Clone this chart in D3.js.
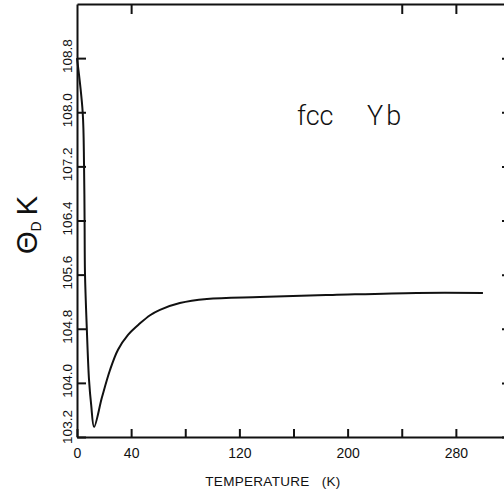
<!DOCTYPE html>
<html>
<head>
<meta charset="utf-8">
<script src="https://cdn.jsdelivr.net/npm/d3@7"></script>
<style>
    body { margin: 0; background: #fff; }
    svg { display: block; }
    text { font-family: "Liberation Sans", Arial, sans-serif; fill: #111; }
    .domain, .tick line { stroke: #111; stroke-width: 2; }
</style>
</head>
<body>
<div id="chart"></div>
<script>
// values: temperature (K) and Debye temperature (K)
var temperature = [0, 4.2, 5.2, 5.6, 5.9, 7.2, 8.9, 10.5, 12.6, 18.5, 24.4, 30.3, 37.7, 46.6, 54, 61.3, 76, 96, 135, 189, 251, 300];
var thetaD = [108.8, 108.0, 107.22, 106.41, 105.62, 104.83, 104.04, 103.67, 103.35, 103.79, 104.19, 104.49, 104.71, 104.88, 105.00, 105.08, 105.18, 105.24, 105.27, 105.30, 105.33, 105.33];

var xTicks = [0, 40, 80, 120, 160, 200, 240, 280, 320];
var xLabels = [0, 40, 120, 200, 280];
var xTopTicks = [40, 240, 280];
var yTicks = [103.2, 104.0, 104.8, 105.6, 106.4, 107.2, 108.0, 108.8];

var width = 504, height = 491;

var svg = d3.select("#chart")
    .append("svg")
    .attr("width", width)
    .attr("height", height);

var x = d3.scaleLinear().domain([0, 320]).range([77, 510]);
var y = d3.scaleLinear().domain([103.2, 109.6]).range([437, 4]);

// bottom axis, ticks pointing inward
var bottom = svg.append("g")
    .attr("transform", "translate(0," + y(103.2) + ")")
    .call(d3.axisBottom(x)
        .tickValues(xTicks)
        .tickSizeInner(-8)
        .tickSizeOuter(0)
        .tickPadding(11)
        .tickFormat(function (d) { return xLabels.indexOf(d) >= 0 ? d : ""; }));
bottom.selectAll("text")
    .style("font-size", "14px")
    .attr("fill", "#111");

// top axis
svg.append("g")
    .attr("transform", "translate(0," + y(109.6) + ")")
    .call(d3.axisBottom(x)
        .tickValues(xTopTicks)
        .tickSizeInner(10)
        .tickSizeOuter(0)
        .tickFormat(""));

// left axis
svg.append("g")
    .attr("transform", "translate(" + x(0) + ",0)")
    .call(d3.axisLeft(y)
        .tickValues(yTicks)
        .tickSizeInner(-9)
        .tickSizeOuter(0)
        .tickFormat(""));

// right axis (mostly off the page)
svg.append("g")
    .attr("transform", "translate(" + x(320) + ",0)")
    .call(d3.axisLeft(y)
        .tickValues(yTicks)
        .tickSizeInner(8)
        .tickSizeOuter(0)
        .tickFormat(""));

// rotated y tick labels, the lowest one pushed up off the corner
svg.selectAll(".ylab")
    .data(yTicks)
    .enter()
    .append("text")
    .attr("class", "ylab")
    .attr("transform", function (d, i) {
        var off = i === 0 ? -10 : -2;
        return "translate(72," + (y(d) + off) + ") rotate(-90)";
    })
    .attr("text-anchor", "middle")
    .style("font-size", "13.5px")
    .text(function (d) { return d.toFixed(1); });

// curve
var line = d3.line()
    .x(function (d) { return x(d[0]); })
    .y(function (d) { return y(d[1]); })
    .curve(d3.curveCatmullRom.alpha(0.5));

svg.append("path")
    .datum(d3.zip(temperature, thetaD))
    .attr("d", line)
    .attr("fill", "none")
    .attr("stroke", "#111")
    .attr("stroke-width", 2);

// axis titles
svg.append("text")
    .attr("x", 273)
    .attr("y", 486)
    .attr("text-anchor", "middle")
    .style("font-size", "13.5px")
    .style("letter-spacing", "0.3px")
    .attr("xml:space", "preserve")
    .text("TEMPERATURE   (K)");

var ylabel = svg.append("text")
    .attr("transform", "translate(37,225) rotate(-90)")
    .attr("text-anchor", "middle");
ylabel.append("tspan").style("font-size", "29px").text("Θ");
ylabel.append("tspan").style("font-size", "14px").attr("dy", 4).text("D");
ylabel.append("tspan").style("font-size", "29px").attr("dy", -4).attr("dx", 6).text("K");

// annotation
svg.append("text")
    .attr("x", 297)
    .attr("y", 125)
    .style("font-family", "Roboto, sans-serif")
    .style("font-weight", 300)
    .style("font-size", "27px")
    .text("fcc");
svg.append("text")
    .attr("x", 367)
    .attr("y", 125)
    .style("font-family", "Roboto, sans-serif")
    .style("font-weight", 300)
    .style("font-size", "27px")
    .style("letter-spacing", "3px")
    .text("Yb");
</script>
</body>
</html>
